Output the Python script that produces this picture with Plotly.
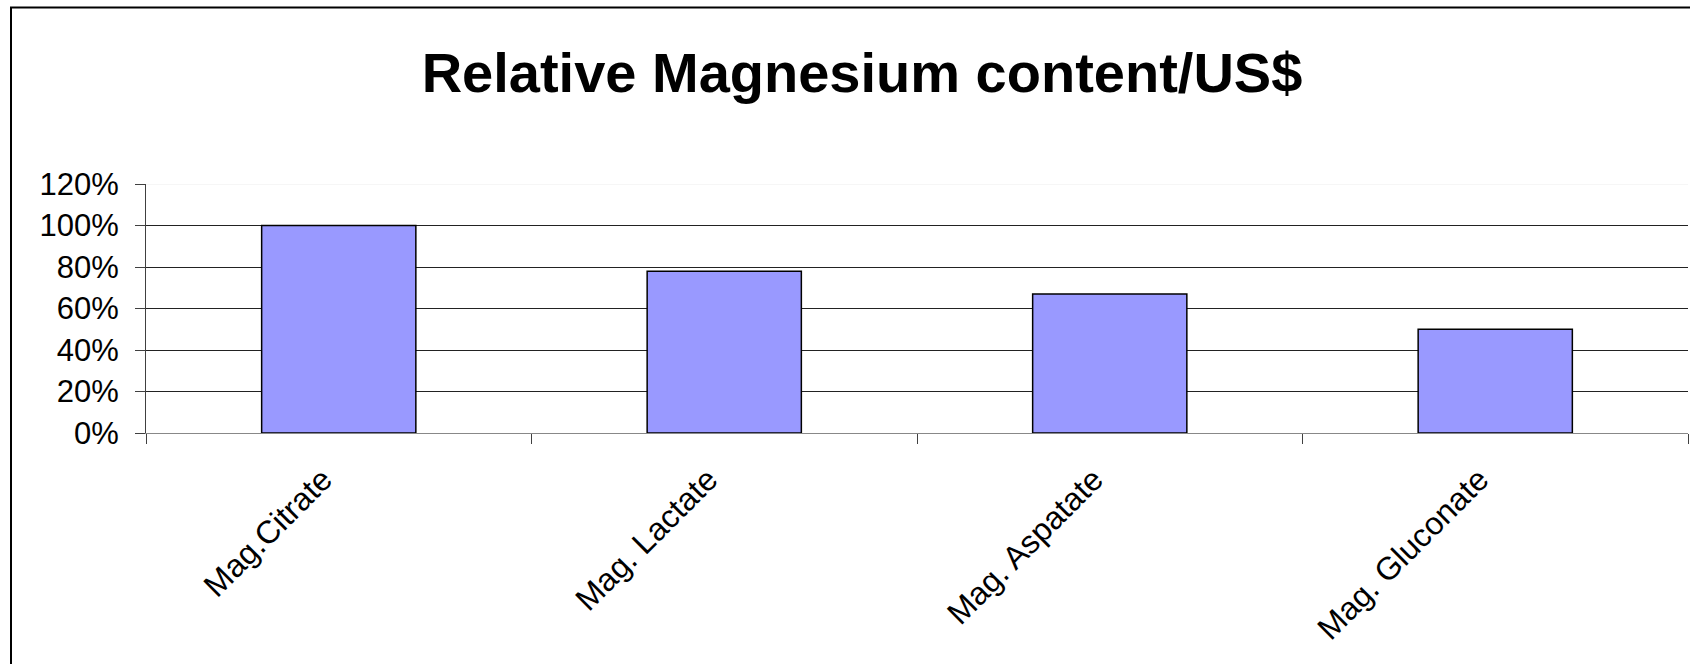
import plotly.graph_objects as go

categories = ["Mag.Citrate", "Mag. Lactate", "Mag. Aspatate", "Mag. Gluconate"]
values = [100, 78, 67, 50]
y_ticks = [0, 20, 40, 60, 80, 100, 120]
y_tick_labels = ["0%", "20%", "40%", "60%", "80%", "100%", "120%"]
title_text = "Relative Magnesium content/US$"

W, H = 1690, 664
L, R, T, B = 146, 2, 184, 231

fig = go.Figure()
fig.add_trace(go.Bar(
    x=categories, y=values,
    marker=dict(color="#9999FF", line=dict(color="#000000", width=1.5)),
    showlegend=False,
))

pw = W - L - R
ph = H - T - B

fig.update_layout(
    width=W, height=H,
    margin=dict(l=L, r=R, t=T, b=B, pad=0),
    paper_bgcolor="white", plot_bgcolor="white",
    font=dict(family="Liberation Sans, Arial, sans-serif", color="black", size=31),
    bargap=0.6,
    title=dict(text="<b>" + title_text + "</b>", x=862 / W, xanchor="center",
               y=1 - 72 / H, yanchor="middle", yref="container",
               font=dict(size=56, family="Liberation Sans, Arial, sans-serif")),
    xaxis=dict(
        type="category", tickangle=-45, ticks="outside", ticklen=10,
        tickcolor="#404040", tickson="boundaries", showline=True,
        linecolor="#888888", linewidth=1, showgrid=False,
        tickfont=dict(size=32), ticklabelstandoff=14, ticklabelshift=-16,
    ),
    yaxis=dict(
        range=[0, 120], tickvals=y_ticks, ticktext=y_tick_labels,
        ticks="outside", ticklen=10, tickcolor="#404040",
        showline=True, linecolor="#404040", linewidth=1,
        showgrid=True, gridcolor="#222222", gridwidth=1,
        zeroline=False, tickfont=dict(size=31), ticklabelstandoff=10,
    ),
    shapes=[
        dict(type="line", xref="paper", yref="y", x0=0, x1=1, y0=120, y1=120,
             line=dict(color="#eeeeee", width=1), layer="between"),
        dict(type="rect", xref="paper", yref="paper",
             x0=(11 - L) / pw, x1=(1710 - L) / pw,
             y0=(ph + T - 700) / ph, y1=(ph + T - 7.5) / ph,
             line=dict(color="black", width=2), fillcolor="rgba(0,0,0,0)",
             layer="above"),
    ],
)

fig.write_html("out.html")
